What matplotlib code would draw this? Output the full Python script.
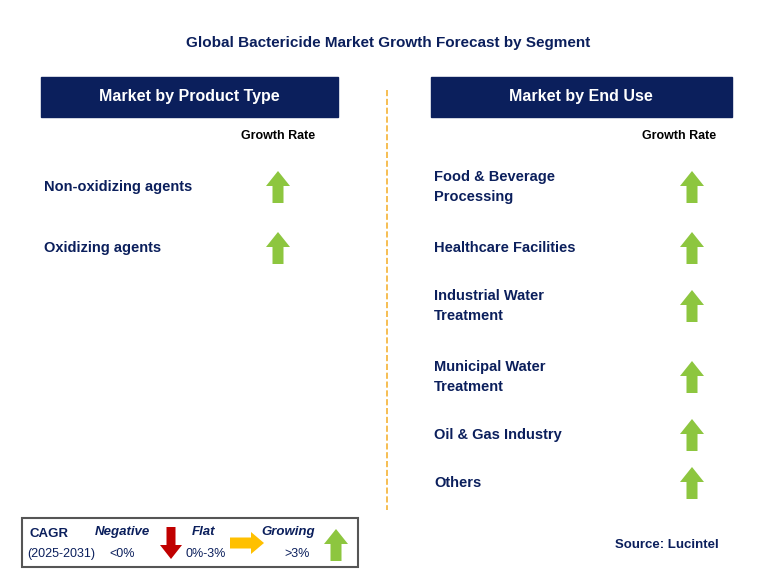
import matplotlib.pyplot as plt
from matplotlib.patches import Rectangle, FancyArrow

plt.rcParams['font.family'] = 'Liberation Sans'

# data
title = 'Global Bactericide Market Growth Forecast by Segment'
left_header = 'Market by Product Type'
right_header = 'Market by End Use'
product_types = ['Non-oxidizing agents', 'Oxidizing agents']
product_growth = ['growing', 'growing']
end_uses = ['Food & Beverage\nProcessing', 'Healthcare Facilities', 'Industrial Water\nTreatment',
            'Municipal Water\nTreatment', 'Oil & Gas Industry', 'Others']
end_use_growth = ['growing'] * 6
left_y = [187, 248]
right_y = [187, 248, 306, 377, 435, 483]

navy = '#0b1f5c'
green = '#8dc63f'
fig = plt.figure(figsize=(7.57, 5.85), dpi=100)
ax = fig.add_axes([0, 0, 1, 1])
ax.set_xlim(0, 757)
ax.set_ylim(585, 0)
ax.axis('off')


def up_arrow(x, y, color=green):
    ax.add_patch(FancyArrow(x, y + 16, 0, -32, width=11, head_width=24, head_length=15,
                            length_includes_head=True, color=color, lw=0))


ax.text(388, 43, title, ha='center', va='center', fontsize=11, fontweight='bold', color=navy)

ax.add_patch(Rectangle((41, 77), 297, 40, color=navy))
ax.text(189, 97, left_header, ha='center', va='center', fontsize=11.5, fontweight='bold', color='white')
ax.add_patch(Rectangle((431, 77), 301, 40, color=navy))
ax.text(581, 97, right_header, ha='center', va='center', fontsize=11.5, fontweight='bold', color='white')
ax.plot([387, 387], [90, 510], ls='--', color='#f5b335', lw=1.2)

ax.text(278, 136, 'Growth Rate', ha='center', va='center', fontsize=9, fontweight='bold', color='black')
ax.text(679, 136, 'Growth Rate', ha='center', va='center', fontsize=9, fontweight='bold', color='black')

for name, g, y in zip(product_types, product_growth, left_y):
    ax.text(44, y, name, ha='left', va='center', fontsize=10.5, fontweight='bold', color=navy)
    up_arrow(278, y)
for name, g, y in zip(end_uses, end_use_growth, right_y):
    ax.text(434, y, name, ha='left', va='center', fontsize=10.5, fontweight='bold', color=navy,
            linespacing=1.5)
    up_arrow(692, y)

# legend box
ax.add_patch(Rectangle((22, 518), 336, 49, fill=False, ec='#555555', lw=1.5))
ax.text(29, 534, 'CAGR', fontsize=9.5, fontweight='bold', color=navy, va='center')
ax.text(27, 554, '(2025-2031)', fontsize=9, color=navy, va='center')
ax.text(122, 532, 'Negative', fontsize=9.5, fontweight='bold', style='italic', color=navy, ha='center', va='center')
ax.text(122, 554, '<0%', fontsize=9, color=navy, ha='center', va='center')
ax.add_patch(FancyArrow(171, 527, 0, 32, width=9, head_width=22, head_length=14,
                        length_includes_head=True, color='#c00000', lw=0))
ax.text(204, 532, 'Flat', fontsize=9.5, fontweight='bold', style='italic', color=navy, ha='center', va='center')
ax.text(206, 554, '0%-3%', fontsize=9, color=navy, ha='center', va='center')
ax.add_patch(FancyArrow(230, 543, 34, 0, width=11, head_width=22, head_length=13,
                        length_includes_head=True, color='#ffc000', lw=0))
ax.text(288, 532, 'Growing', fontsize=9.5, fontweight='bold', style='italic', color=navy, ha='center', va='center')
ax.text(297, 554, '>3%', fontsize=9, color=navy, ha='center', va='center')
ax.add_patch(FancyArrow(336, 561, 0, -32, width=11, head_width=24, head_length=15,
                        length_includes_head=True, color=green, lw=0))

ax.text(667, 545, 'Source: Lucintel', ha='center', va='center', fontsize=9.5, fontweight='bold', color=navy)

fig.savefig('out.png', dpi=100)
